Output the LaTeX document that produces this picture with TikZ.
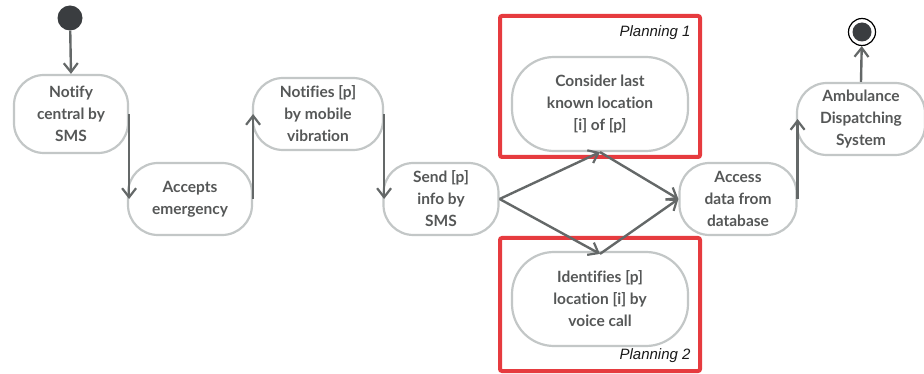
\documentclass[tikz,border=0pt]{standalone}
\usepackage{fontspec}
\setmainfont{Lato}[Ligatures=NoCommon]
\newfontfamily\labelfont{Liberation Sans}
\usetikzlibrary{arrows.meta}
\definecolor{boxline}{HTML}{C3C7C7}
\definecolor{flow}{HTML}{646868}
\definecolor{txt}{HTML}{555757}
\definecolor{plan}{HTML}{E63B3F}
\definecolor{dot}{HTML}{3A3D40}
\tikzset{
  act/.style={draw=boxline, line width=2.2pt, rounded corners=#1, fill=white,
    align=center, text=txt, font=\fontsize{15.5}{22}\selectfont\bfseries,
    inner sep=0pt},
  act/.default=30pt,
  flowarrow/.style={draw=flow, line width=2.4pt,
    -{Straight Barb[length=9pt,width=14pt,line width=2.2pt]}},
  planbox/.style={draw=plan, line width=4pt, rounded corners=2pt},
  planlabel/.style={font=\labelfont\itshape\fontsize{15}{17}\selectfont, text=black!90}
}
\begin{document}
\begin{tikzpicture}[x=1pt,y=-1pt]
\useasboundingbox (0,0) rectangle (924,374);
% planning frames
\draw[planbox] (500,16) rectangle (700,157);
\draw[planbox] (500,238) rectangle (700,371);
\node[planlabel, anchor=north east] (p1) at (694,22) {Planning 1};
\node[planlabel, anchor=south east] (p2) at (694,366) {Planning 2};
% start and end
\node[circle, fill=dot, minimum size=25pt, inner sep=0pt] (start) at (70,18) {};
\node[circle, draw=black, line width=1.2pt, fill=white, minimum size=27pt, inner sep=0pt] (endo) at (862,32) {};
\node[circle, fill=dot, minimum size=19pt, inner sep=0pt] (endi) at (862,32) {};
% activities
\node[act, minimum width=114pt, minimum height=78pt] (notify) at (71,114) {Notify\\central by\\SMS};
\node[act, minimum width=124pt, minimum height=72pt] (accept) at (190,199) {Accepts\\emergency};
\node[act, minimum width=130pt, minimum height=72pt] (vibr) at (318,114) {Notifies [p]\\by mobile\\vibration};
\node[act, minimum width=115pt, minimum height=72pt] (send) at (441,199) {Send [p]\\info by\\SMS};
\node[act=42pt, minimum width=176pt, minimum height=94pt] (last) at (600,104) {Consider last\\known location\\{[i]} of [p]};
\node[act=42pt, minimum width=176pt, minimum height=94pt] (voice) at (600,299) {Identifies [p]\\location [i] by\\voice call};
\node[act, minimum width=117pt, minimum height=72pt] (access) at (738,199) {Access\\data from\\database};
\node[act, minimum width=128pt, minimum height=72pt] (amb) at (861,119) {Ambulance\\Dispatching\\System};
% control flow
\draw[flowarrow] (start) -- (notify.north);
\draw[flowarrow] (notify.east) -- (notify.east |- accept.west);
\draw[flowarrow] (accept.east) -- (accept.east |- vibr.west);
\draw[flowarrow] (vibr.east) -- (vibr.east |- send.west);
\draw[flowarrow] (send.east) -- (last.south);
\draw[flowarrow] (send.east) -- ([yshift=-3pt]voice.north);
\draw[flowarrow] (last.south) -- (access.west);
\draw[flowarrow] ([yshift=-3pt]voice.north) -- (access.west);
\draw[flowarrow] (access.east) -- (access.east |- amb.west);
\draw[flowarrow] (amb.north) -- (endo);
\end{tikzpicture}
\end{document}
